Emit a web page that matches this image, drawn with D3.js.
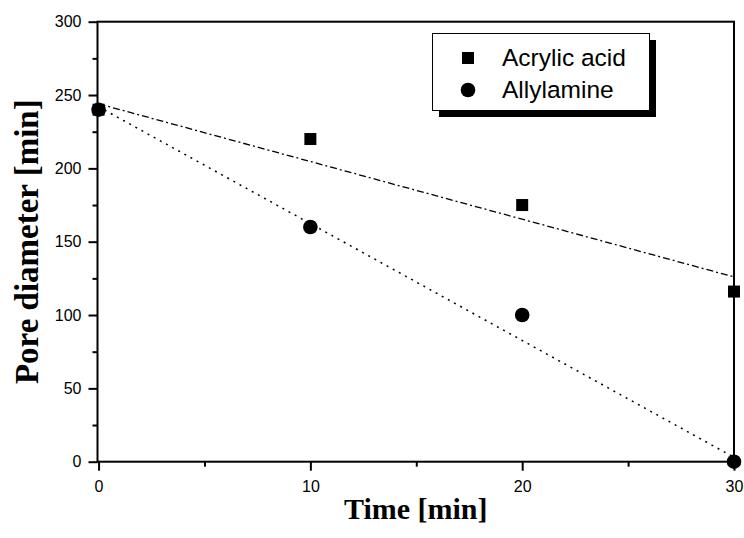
<!DOCTYPE html>
<html><head><meta charset="utf-8">
<script src="https://cdn.jsdelivr.net/npm/d3@7/dist/d3.min.js"></script>
<style>body{margin:0;background:#fff}svg{display:block}</style>
</head><body>
<svg id="chart" width="744" height="538"></svg>
<script>
// Data
const times = [0, 10, 20, 30];
const acrylicAcid = [240, 220, 175, 116];
const allylamine = [240, 160, 100, 0];
// fitted lines (end points)
const acrylicFitX = [0, 30];
const acrylicFitY = [244, 126];
const allylFitX = [0, 30];
const allylFitY = [242, 3];
const xTicks = [0, 10, 20, 30];
const xMinor = [5, 15, 25];
const yTicks = [0, 50, 100, 150, 200, 250, 300];
const yMinor = [25, 75, 125, 175, 225, 275];
const seriesNames = ["Acrylic acid", "Allylamine"];

const svg = d3.select("#chart");
const L = 97.5, R = 734, T = 21.7, B = 461.7;
const x = d3.scaleLinear().domain([-0.05, 30]).range([L, R]);
const y = d3.scaleLinear().domain([0, 300]).range([B, T]);

// frame
svg.append("rect").attr("x", L).attr("y", T).attr("width", R - L).attr("height", B - T)
  .attr("fill", "none").attr("stroke", "#000").attr("stroke-width", 2);

// axes
const fontTick = "'Liberation Sans', Arial, sans-serif";
const xAxis = svg.append("g").attr("transform", `translate(0,${B})`)
  .call(d3.axisBottom(x).tickValues(xTicks).tickSize(9).tickPadding(10).tickFormat(d3.format("d")));
const xAxisMinor = svg.append("g").attr("transform", `translate(0,${B})`)
  .call(d3.axisBottom(x).tickValues(xMinor).tickSize(5).tickFormat(""));
const yAxis = svg.append("g").attr("transform", `translate(${L},0)`)
  .call(d3.axisLeft(y).tickValues(yTicks).tickSize(9).tickPadding(7).tickFormat(d3.format("d")));
const yAxisMinor = svg.append("g").attr("transform", `translate(${L},0)`)
  .call(d3.axisLeft(y).tickValues(yMinor).tickSize(5).tickFormat(""));
[xAxis, xAxisMinor, yAxis, yAxisMinor].forEach(g => {
  g.select(".domain").remove();
  g.selectAll("line").attr("stroke", "#000").attr("stroke-width", 2);
  g.selectAll("text").attr("font-family", fontTick).attr("font-size", 16).attr("fill", "#000");
});

// fit lines
const line = d3.line().x(d => x(d[0])).y(d => y(d[1]));
svg.append("path").datum(d3.zip(acrylicFitX, acrylicFitY)).attr("d", line)
  .attr("fill", "none").attr("stroke", "#000").attr("stroke-width", 1.3)
  .attr("stroke-dasharray", "7,3,2,3");
svg.append("path").datum(d3.zip(allylFitX, allylFitY)).attr("d", line)
  .attr("fill", "none").attr("stroke", "#000").attr("stroke-width", 1.5)
  .attr("stroke-dasharray", "2,5");

// markers
svg.append("g").selectAll("rect").data(d3.zip(times, acrylicAcid)).join("rect")
  .attr("x", d => x(d[0]) - 6).attr("y", d => y(d[1]) - 6)
  .attr("width", 12).attr("height", 12).attr("fill", "#000");
svg.append("g").selectAll("circle").data(d3.zip(times, allylamine)).join("circle")
  .attr("cx", d => x(d[0])).attr("cy", d => y(d[1])).attr("r", 7.3).attr("fill", "#000");

// legend
const lg = svg.append("g");
lg.append("rect").attr("x", 439).attr("y", 40).attr("width", 217).attr("height", 77).attr("fill", "#000");
lg.append("rect").attr("x", 432.5).attr("y", 33.5).attr("width", 217).attr("height", 77)
  .attr("fill", "#fff").attr("stroke", "#000").attr("stroke-width", 1);
lg.append("rect").attr("x", 462).attr("y", 52).attr("width", 12).attr("height", 12).attr("fill", "#000");
lg.append("circle").attr("cx", 468).attr("cy", 90).attr("r", 7.3).attr("fill", "#000");
lg.selectAll("text").data(seriesNames).join("text")
  .attr("x", 502).attr("y", (d, i) => 66 + i * 32)
  .attr("font-family", fontTick).attr("font-size", 24.5).attr("fill", "#000").text(d => d);

// axis titles
const fontTitle = "'Liberation Serif', 'Times New Roman', serif";
svg.append("text").attr("x", (L + R) / 2).attr("y", 519).attr("text-anchor", "middle")
  .attr("font-family", fontTitle).attr("font-weight", "bold").attr("font-size", 30)
  .text("Time [min]");
svg.append("text").attr("transform", `translate(38,${(T + B) / 2}) rotate(-90)`)
  .attr("text-anchor", "middle")
  .attr("font-family", fontTitle).attr("font-weight", "bold").attr("font-size", 33)
  .text("Pore diameter [min]");
</script>
</body></html>
